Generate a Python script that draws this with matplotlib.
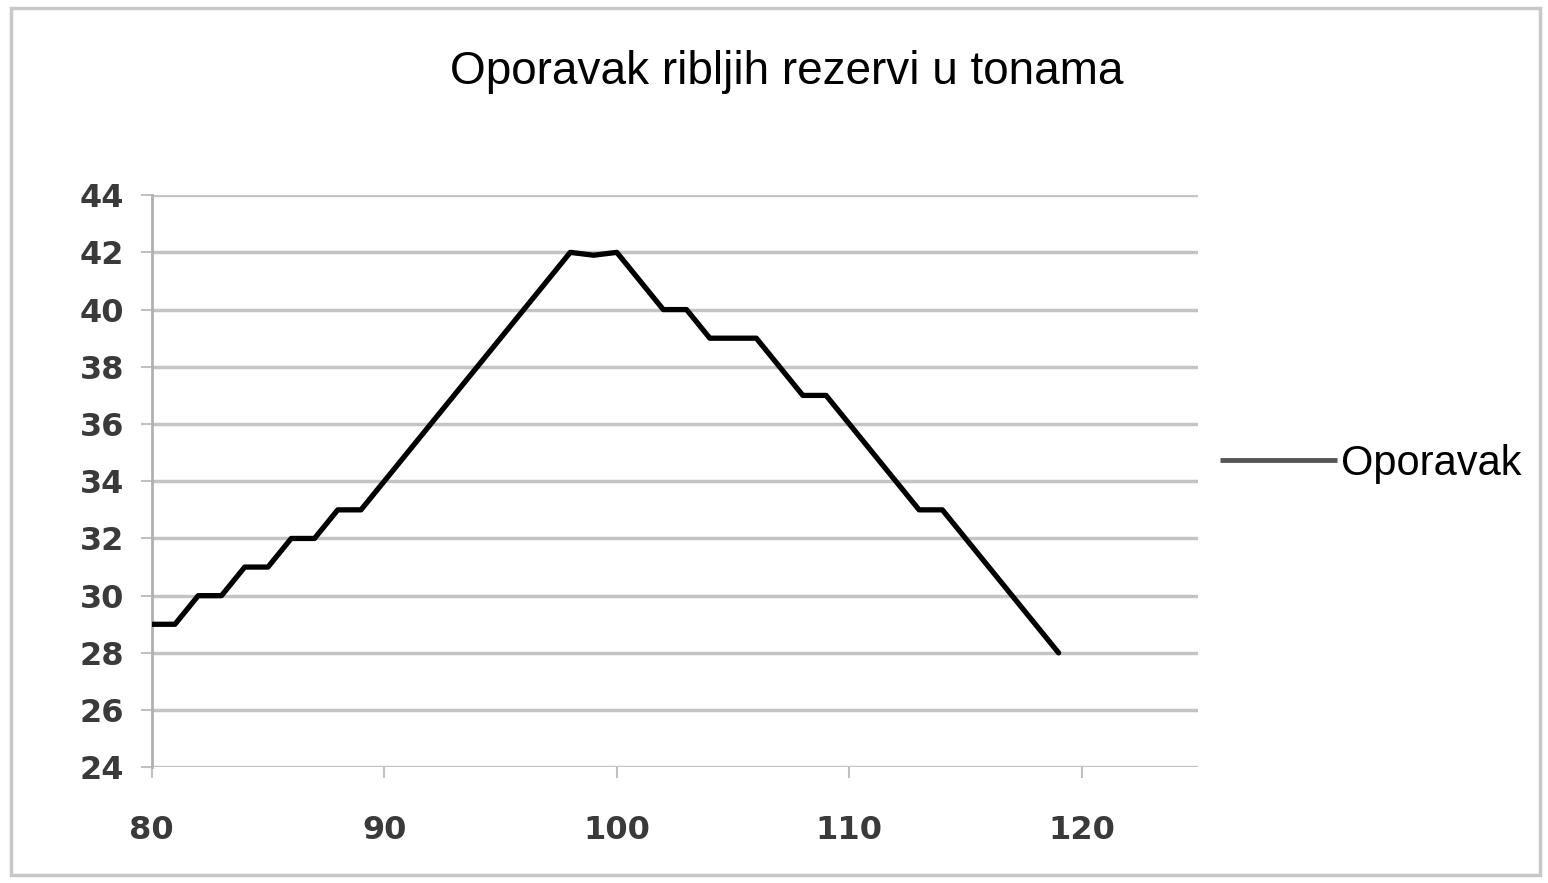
import matplotlib.pyplot as plt
from matplotlib.patches import Rectangle

# podaci
godine = [80, 81, 82, 83, 84, 85, 86, 87, 88, 89, 98, 99, 100,
          102, 103, 104, 105, 106, 108, 109, 113, 114, 119]
tone = [29, 29, 30, 30, 31, 31, 32, 32, 33, 33, 42, 41.9, 42,
        40, 40, 39, 39, 39, 37, 37, 33, 33, 28]
y_ticks = list(range(24, 45, 2))
x_ticks = [80, 90, 100, 110, 120]

fig = plt.figure(figsize=(15.48, 8.83), dpi=100)
ax = fig.add_axes([0.098, 0.131, 0.676, 0.648])

ax.plot(godine, tone, color='black', lw=3.8, solid_joinstyle='round',
        solid_capstyle='round', label='Oporavak', zorder=3)

ax.set_xlim(80, 125)
ax.set_ylim(24, 44)
ax.set_yticks(y_ticks)
ax.set_xticks(x_ticks)
ax.grid(axis='y', color='#c4c4c4', lw=2.5)
ax.set_axisbelow(True)

for s in ['top', 'right', 'bottom']:
    ax.spines[s].set_visible(False)
ax.spines['left'].set_color('#b0b0b0')
ax.spines['left'].set_linewidth(2)
ax.tick_params(axis='both', colors='#c0c0c0', labelcolor='#3a3a3a',
               labelsize=23, length=8, width=1.5)
ax.tick_params(axis='x', pad=26)
ax.tick_params(axis='y', pad=12)
for lab in ax.get_xticklabels() + ax.get_yticklabels():
    lab.set_fontweight('bold')

fig.text(0.508, 0.918, 'Oporavak ribljih rezervi u tonama', ha='center', va='center',
         fontsize=33, family='Liberation Sans')

leg = ax.legend(loc='center left', bbox_to_anchor=(0.989, 0.53), frameon=False,
                prop={'family': 'Liberation Sans', 'size': 30},
                handlelength=2.8, handletextpad=0.1, borderaxespad=0.4)
leg.get_lines()[0].set_color('#555555')
leg.get_lines()[0].set_linewidth(3.5)
leg.get_lines()[0].set_solid_capstyle('butt')

fig.patches.append(Rectangle((0.007, 0.009), 0.988, 0.982, transform=fig.transFigure,
                             fill=False, edgecolor='#c8c8c8', lw=2.5))

plt.savefig('out.png', dpi=100)
